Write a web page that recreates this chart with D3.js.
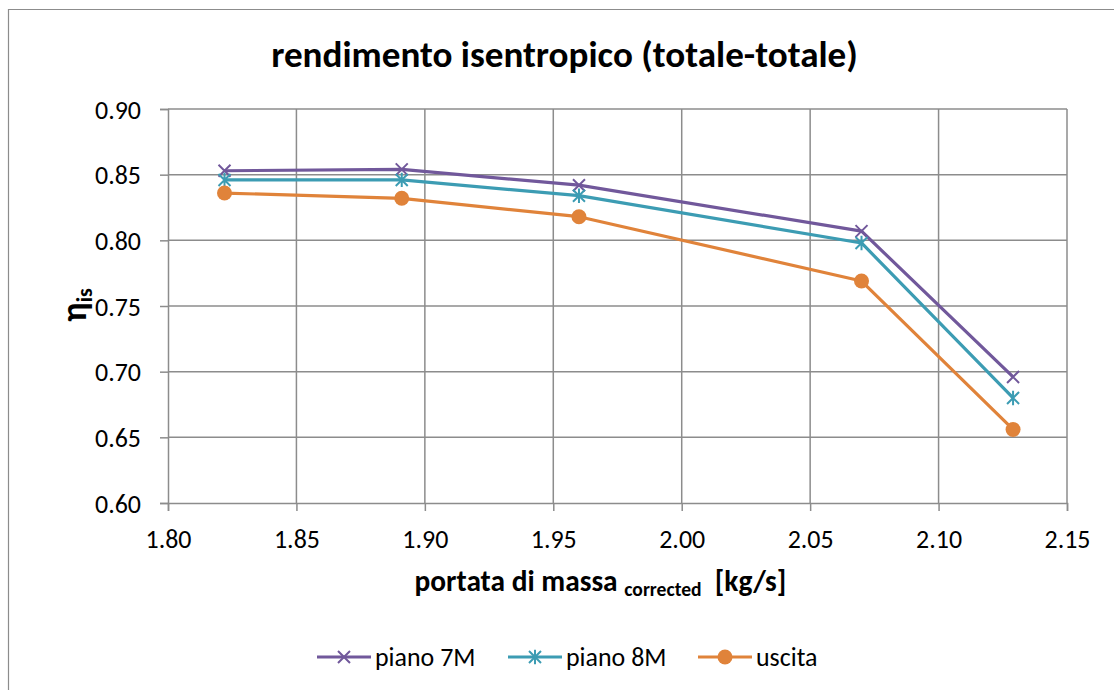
<!DOCTYPE html>
<html><head><meta charset="utf-8">
<script src="https://cdn.jsdelivr.net/npm/d3@7"></script>
<style>body{margin:0;background:#fff;overflow:hidden;} svg{display:block;font-family:Carlito,Calibri,Lato,"Open Sans",sans-serif;}</style>
</head><body><svg id="c" width="1114" height="690"></svg>
<script>
const xValues = [1.822, 1.891, 1.960, 2.070, 2.129];
const piano7M = [0.853, 0.854, 0.842, 0.807, 0.696];
const piano8M = [0.846, 0.846, 0.834, 0.798, 0.680];
const uscita  = [0.836, 0.832, 0.818, 0.769, 0.656];
const xTicks = [1.80, 1.85, 1.90, 1.95, 2.00, 2.05, 2.10, 2.15];
const yTicks = [0.60, 0.65, 0.70, 0.75, 0.80, 0.85, 0.90];
const seriesNames = ["piano 7M", "piano 8M", "uscita"];
const seriesColors = ["#71589b", "#3c9cb3", "#e0833a"];
const seriesMarkers = ["x", "asterisk", "circle"];

const svg = d3.select("#c");
const L = 168, R = 1067, T = 109, B = 503;
const x = d3.scaleLinear().domain([1.80, 2.15]).range([L, R]);
const y = d3.scaleLinear().domain([0.60, 0.90]).range([B, T]);
const grid = "#8c8c8c";

// scale a text element's font sizes so its width matches a target
function fitWidth(sel, target) {
  const node = sel.node();
  const w = node.getBBox().width;
  if (!w) return 1;
  const k = target / w;
  const fs = parseFloat(sel.style("font-size"));
  sel.style("font-size", (fs * k) + "px");
  sel.selectAll("tspan").each(function () {
    const t = d3.select(this);
    const s = this.style.fontSize ? parseFloat(this.style.fontSize) : null;
    if (s) t.style("font-size", (s * k) + "px");
    const dy = t.attr("dy");
    if (dy) t.attr("dy", parseFloat(dy) * k);
  });
  return k;
}

// probe tick label font size
const probe = svg.append("text").style("font-size", "20px").text("0.90");
const tickK = 46 / probe.node().getBBox().width;
const tickFS = 20 * tickK;
probe.remove();

// outer border (only left and top visible in frame)
svg.append("path").attr("d", "M8.5,700V9.5H1120").attr("fill", "none")
  .attr("stroke", "#8c8c8c").attr("stroke-width", 1.2);

// gridlines
svg.append("g").selectAll("line").data(yTicks.slice(1)).join("line")
  .attr("x1", L).attr("x2", R).attr("y1", d => y(d)).attr("y2", d => y(d))
  .attr("stroke", grid).attr("stroke-width", 1.5);
svg.append("g").selectAll("line").data(xTicks.slice(1)).join("line")
  .attr("y1", T).attr("y2", B).attr("x1", d => x(d)).attr("x2", d => x(d))
  .attr("stroke", grid).attr("stroke-width", 1.5);

// axes
const yAxis = d3.axisLeft(y).tickValues(yTicks).tickFormat(d3.format(".2f")).tickSize(8).tickPadding(19);
const gy = svg.append("g").attr("transform", `translate(${L},0)`).call(yAxis);
const xAxis = d3.axisBottom(x).tickValues(xTicks).tickFormat(d3.format(".2f")).tickSize(8).tickPadding(19);
const gx = svg.append("g").attr("transform", `translate(0,${B})`).call(xAxis);
[gx, gy].forEach(g => {
  g.select(".domain").attr("stroke", grid).attr("stroke-width", 1.5);
  g.selectAll(".tick line").attr("stroke", grid).attr("stroke-width", 1.5);
  g.selectAll(".tick text").attr("fill", "#000").style("font-size", tickFS + "px")
    .style("font-family", "Carlito,Calibri,Lato,'Open Sans',sans-serif");
});
gy.selectAll(".tick text").attr("dy", "0.35em");

// marker drawer
function drawMarker(g, type, cx, cy, color, s) {
  if (type === "x") {
    g.append("path").attr("d", `M${cx-s},${cy-s}L${cx+s},${cy+s}M${cx-s},${cy+s}L${cx+s},${cy-s}`)
      .attr("stroke", color).attr("stroke-width", 2).attr("fill", "none");
  } else if (type === "asterisk") {
    g.append("path").attr("d", `M${cx-s},${cy-s}L${cx+s},${cy+s}M${cx-s},${cy+s}L${cx+s},${cy-s}M${cx},${cy-s*1.2}L${cx},${cy+s*1.2}`)
      .attr("stroke", color).attr("stroke-width", 2).attr("fill", "none");
  } else {
    g.append("circle").attr("cx", cx).attr("cy", cy).attr("r", s+1.5).attr("fill", color);
  }
}

const allSeries = [piano7M, piano8M, uscita];
const line = d3.line().x(d => x(d[0])).y(d => y(d[1]));
allSeries.forEach((vals, i) => {
  const pts = xValues.map((xv, j) => [xv, vals[j]]);
  const g = svg.append("g");
  g.append("path").attr("d", line(pts)).attr("fill", "none")
    .attr("stroke", seriesColors[i]).attr("stroke-width", 3.2).attr("stroke-linejoin", "round");
  pts.forEach(p => drawMarker(g, seriesMarkers[i], x(p[0]), y(p[1]), seriesColors[i], 6));
});

// title
const title = svg.append("text").attr("x", 564.5).attr("y", 67).attr("text-anchor", "middle")
  .style("font-size", "29px").style("font-weight", "bold").text("rendimento isentropico (totale-totale)");
fitWidth(title, 587);

// x axis title
const xt = svg.append("text").attr("x", 414.5).attr("y", 591).attr("text-anchor", "start")
  .style("font-size", "24px").style("font-weight", "bold");
xt.append("tspan").text("portata di massa ");
xt.append("tspan").style("font-size", "16px").attr("dy", 4).text("corrected");
xt.append("tspan").attr("dy", -4).text("\u00a0\u00a0[kg/s]");
fitWidth(xt, 372);

// y axis title
const yt = svg.append("text").attr("transform", "translate(86,305) rotate(-90)").attr("text-anchor", "middle")
  .style("font-size", "36px").style("font-weight", "bold");
yt.append("tspan").text("η");
yt.append("tspan").style("font-size", "22px").attr("dy", 6).text("is");

// legend
const legX = [317, 508, 698];
seriesNames.forEach((n, i) => {
  const g = svg.append("g");
  const yy = 657;
  g.append("line").attr("x1", legX[i]).attr("x2", legX[i] + 54).attr("y1", yy).attr("y2", yy)
    .attr("stroke", seriesColors[i]).attr("stroke-width", 3.2);
  drawMarker(g, seriesMarkers[i], legX[i] + 27, yy, seriesColors[i], 6);
  g.append("text").attr("x", legX[i] + 58).attr("y", yy).attr("dy", "0.35em")
    .style("font-size", tickFS + "px").text(n);
});
</script></body></html>
